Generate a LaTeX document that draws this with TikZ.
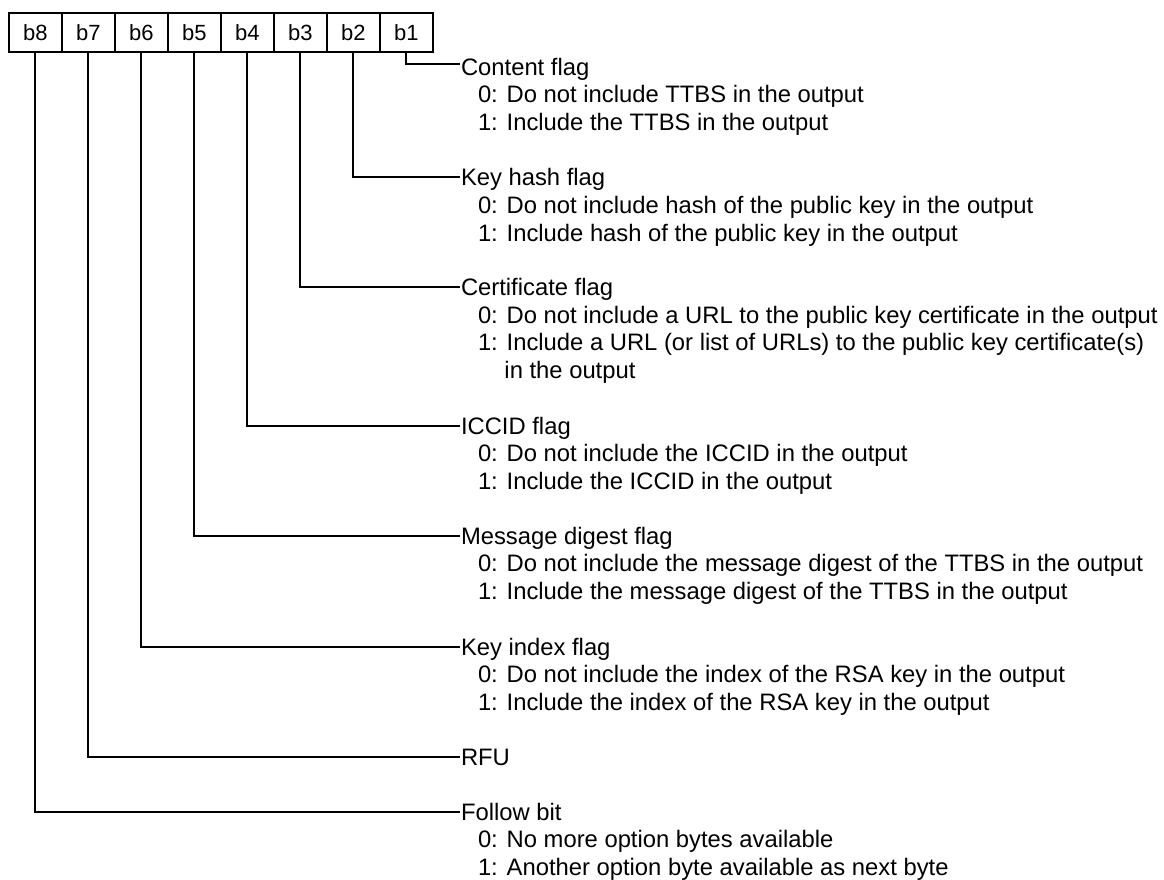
\documentclass[tikz,border=0pt]{standalone}
\usepackage{fontspec}
\setmainfont{Liberation Sans}
\newcommand\lblfont{\fontsize{23.8}{27.5}\selectfont}
\newcommand\bitfont{\fontsize{22}{26}\selectfont}
\begin{document}
\begin{tikzpicture}[x=1pt,y=-1pt,line width=2pt,
  bitbox/.style={draw,minimum width=53pt,minimum height=39pt,inner sep=0pt,
    font=\bitfont,text height=16pt,text depth=0pt},
  title/.style={anchor=west,inner sep=0pt,text height=17pt,text depth=0pt,font=\lblfont},
  sub/.style={anchor=base west,inner sep=0pt,font=\lblfont},
  conn/.style={draw,line width=2pt}]
\useasboundingbox (0,0) rectangle (1164,879);
% bit boxes
\node[bitbox] (b8) at (35.3,32.5) {b8};
\node[bitbox] (b7) at (88.3,32.5) {b7};
\node[bitbox] (b6) at (141.3,32.5) {b6};
\node[bitbox] (b5) at (194.3,32.5) {b5};
\node[bitbox] (b4) at (247.3,32.5) {b4};
\node[bitbox] (b3) at (300.3,32.5) {b3};
\node[bitbox] (b2) at (353.3,32.5) {b2};
\node[bitbox] (b1) at (406.3,32.5) {b1};
% titles
\node[title,text height=22pt] (t1) at (460,64) {Content flag};
\node[title] (t2) at (460,177.3) {Key hash flag};
\node[title] (t3) at (460,287) {Certificate flag};
\node[title] (t4) at (460,425.7) {ICCID flag};
\node[title] (t5) at (460,535.7) {Message digest flag};
\node[title] (t6) at (460,646.7) {Key index flag};
\node[title] (t7) at (460,756.7) {RFU};
\node[title] (t8) at (460,812.3) {Follow bit};
% sub lines
\node[sub] (s1a) at (477,102.5) {0: Do not include TTBS in the output};
\node[sub] (s1b) at (477,130) {1: Include the TTBS in the output};
\node[sub] (s2a) at (477,213.5) {0: Do not include hash of the public key in the output};
\node[sub] (s2b) at (477,241) {1: Include hash of the public key in the output};
\node[sub] (s3a) at (477,323) {0: Do not include a URL to the public key certificate in the output};
\node[sub] (s3b) at (477,350.5) {1: Include a URL (or list of URLs) to the public key certificate(s)};
\node[sub] (s3c) at (477,378) {\hphantom{1:} in the output};
\node[sub] (s4a) at (477,461.5) {0: Do not include the ICCID in the output};
\node[sub] (s4b) at (477,489) {1: Include the ICCID in the output};
\node[sub] (s5a) at (477,571.5) {0: Do not include the message digest of the TTBS in the output};
\node[sub] (s5b) at (477,599) {1: Include the message digest of the TTBS in the output};
\node[sub] (s6a) at (477,682.5) {0: Do not include the index of the RSA key in the output};
\node[sub] (s6b) at (477,710) {1: Include the index of the RSA key in the output};
\node[sub] (s8a) at (477,847.5) {0: No more option bytes available};
\node[sub] (s8b) at (477,875) {1: Another option byte available as next byte};
% connectors
\draw[conn] (b1.south) |- (t1.west);
\draw[conn] (b2.south) |- (t2.west);
\draw[conn] (b3.south) |- (t3.west);
\draw[conn] (b4.south) |- (t4.west);
\draw[conn] (b5.south) |- (t5.west);
\draw[conn] (b6.south) |- (t6.west);
\draw[conn] (b7.south) |- (t7.west);
\draw[conn] (b8.south) |- (t8.west);
\end{tikzpicture}
\end{document}
